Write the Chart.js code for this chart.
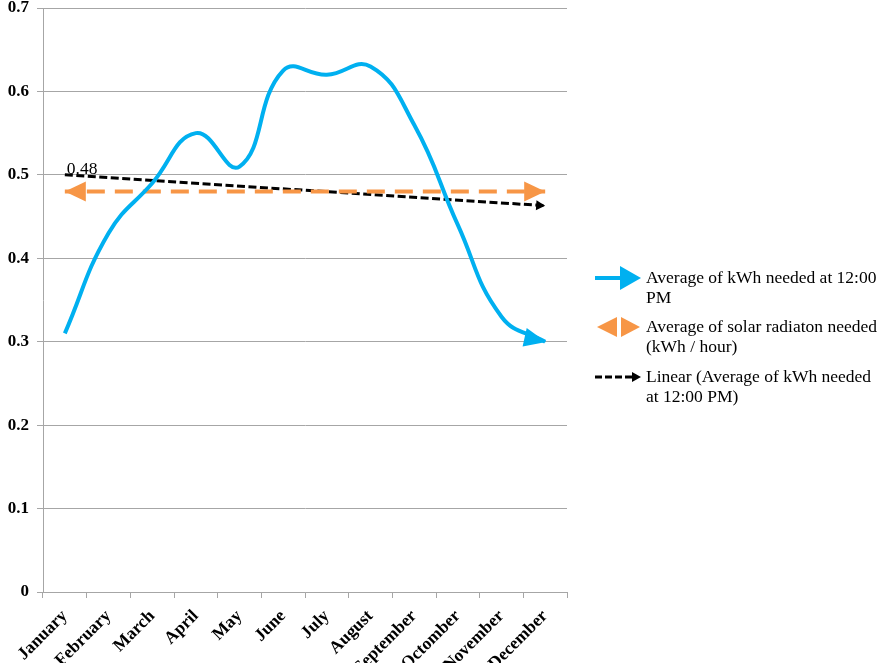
<!DOCTYPE html>
<html>
<head>
<meta charset="utf-8">
<script src="https://cdn.jsdelivr.net/npm/chart.js@4"></script>
<style>
  html, body { margin: 0; padding: 0; background: #fff; }
  #kwhChart { display: block; }
</style>
</head>
<body>
<canvas id="kwhChart" width="879" height="663"></canvas>
<script>
const months = ["January", "February", "March", "April", "May", "June", "July",
  "August", "September", "Octomber", "November", "December"];

const kwhNeeded = [0.31, 0.43, 0.49, 0.55, 0.51, 0.625, 0.62, 0.63, 0.56, 0.44, 0.33, 0.30];

const solarNeeded = [0.48, 0.48, 0.48, 0.48, 0.48, 0.48, 0.48, 0.48, 0.48, 0.48, 0.48, 0.48];

// trend line (only the two ends are drawn)
const trendKwh = [0.50, null, null, null, null, null, null, null, null, null, null, 0.463];

const yTicks = [0, 0.1, 0.2, 0.3, 0.4, 0.5, 0.6, 0.7];

const legendItems = [
  ["Average of kWh needed at 12:00", "PM"],
  ["Average of solar radiaton needed", "(kWh / hour)"],
  ["Linear (Average of kWh needed", "at 12:00 PM)"],
];

const blue = "#00b0f0";
const orange = "#f79646";
const gridGrey = "#a6a6a6";
const serif = "'Liberation Serif', 'Times New Roman', serif";

function drawHead(ctx, tip, from, len, half, color, push) {
  const dx = tip.x - from.x, dy = tip.y - from.y;
  const d = Math.sqrt(dx * dx + dy * dy) || 1;
  const ux = dx / d, uy = dy / d;
  const tx = tip.x + ux * push, ty = tip.y + uy * push;
  const bx = tx - ux * len, by = ty - uy * len;
  ctx.save();
  ctx.fillStyle = color;
  ctx.beginPath();
  ctx.moveTo(tx, ty);
  ctx.lineTo(bx - uy * half, by + ux * half);
  ctx.lineTo(bx + uy * half, by - ux * half);
  ctx.closePath();
  ctx.fill();
  ctx.restore();
}

const arrowPlugin = {
  id: "arrows",
  afterDatasetsDraw(chart) {
    const ctx = chart.ctx;
    chart.data.datasets.forEach((ds, i) => {
      if (!ds.arrow) return;
      const pts = chart.getDatasetMeta(i).data.filter((p) => !p.skip);
      const last = pts[pts.length - 1];
      const first = pts[0];
      let prev = pts[pts.length - 2];
      if (ds.arrow.tilt !== undefined) prev = { x: last.x - 20, y: last.y - 20 * ds.arrow.tilt };
      drawHead(ctx, last, prev, ds.arrow.len, ds.arrow.half, ds.borderColor, ds.arrow.push);
      if (ds.arrow.both) {
        drawHead(ctx, first, pts[1], ds.arrow.len, ds.arrow.half, ds.borderColor, ds.arrow.push);
      }
    });
    // value label on first point of the solar series
    const p = chart.getDatasetMeta(1).data[0];
    ctx.save();
    ctx.font = "17.5px " + serif;
    ctx.fillStyle = "#000";
    ctx.textBaseline = "alphabetic";
    ctx.fillText(solarNeeded[0].toFixed(2), p.x + 2, p.y - 18);
    ctx.restore();
  },
};

const legendPlugin = {
  id: "sideLegend",
  afterDraw(chart) {
    const ctx = chart.ctx;
    const rows = [278, 327, 377];
    ctx.save();
    // blue arrow
    ctx.strokeStyle = blue;
    ctx.lineWidth = 4;
    ctx.beginPath();
    ctx.moveTo(595, rows[0]);
    ctx.lineTo(624, rows[0]);
    ctx.stroke();
    drawHead(ctx, { x: 641, y: rows[0] }, { x: 595, y: rows[0] }, 21, 12, blue, 0);
    // orange double arrow
    drawHead(ctx, { x: 640, y: rows[1] }, { x: 597, y: rows[1] }, 19, 10, orange, 0);
    drawHead(ctx, { x: 597, y: rows[1] }, { x: 640, y: rows[1] }, 20, 10, orange, 0);
    // black dashed
    ctx.strokeStyle = "#000";
    ctx.lineWidth = 3;
    ctx.setLineDash([7, 3]);
    ctx.beginPath();
    ctx.moveTo(595, rows[2]);
    ctx.lineTo(634, rows[2]);
    ctx.stroke();
    ctx.setLineDash([]);
    drawHead(ctx, { x: 641, y: rows[2] }, { x: 595, y: rows[2] }, 9, 5, "#000", 0);
    // texts
    ctx.font = "17.5px " + serif;
    ctx.fillStyle = "#000";
    ctx.textBaseline = "middle";
    legendItems.forEach((lines, i) => {
      lines.forEach((t, j) => ctx.fillText(t, 646, rows[i] + j * 20));
    });
    ctx.restore();
  },
};

const ctx = document.getElementById("kwhChart");
new Chart(ctx, {
  type: "line",
  data: {
    labels: months,
    datasets: [
      {
        label: "Average of kWh needed at 12:00 PM",
        data: kwhNeeded,
        borderColor: blue,
        borderWidth: 4,
        tension: 0.45,
        pointRadius: 0,
        arrow: { len: 22, half: 9.5, push: 1, tilt: 0.22 },
      },
      {
        label: "Average of solar radiaton needed (kWh / hour)",
        data: solarNeeded,
        borderColor: orange,
        borderWidth: 4,
        borderDash: [18, 10],
        borderDashOffset: -22,
        pointRadius: 0,
        arrow: { len: 21, half: 10, push: 0, both: true },
      },
      {
        label: "Linear (Average of kWh needed at 12:00 PM)",
        data: trendKwh,
        borderColor: "#000",
        borderWidth: 3,
        borderDash: [8, 3.5],
        spanGaps: true,
        pointRadius: 0,
        arrow: { len: 9, half: 5, push: 0 },
      },
    ],
  },
  options: {
    responsive: false,
    animation: false,
    devicePixelRatio: 1,
    layout: { padding: { top: 8, right: 312, left: 0, bottom: 0 } },
    plugins: { legend: { display: false }, tooltip: { enabled: false } },
    scales: {
      x: {
        offset: true,
        grid: { offset: true, drawOnChartArea: false, drawTicks: true, tickLength: 6, color: gridGrey },
        border: { color: gridGrey },
        ticks: {
          minRotation: 45,
          maxRotation: 45,
          autoSkip: false,
          padding: 8,
          color: "#000",
          font: { family: serif, size: 17.5, weight: "bold" },
        },
        afterFit: (scale) => { scale.height = 71; },
      },
      y: {
        min: 0,
        max: 0.7,
        afterBuildTicks: (scale) => { scale.ticks = yTicks.map((v) => ({ value: v })); },
        grid: { color: gridGrey, tickLength: 6 },
        border: { color: gridGrey },
        ticks: {
          padding: 8,
          color: "#000",
          font: { family: serif, size: 17, weight: "bold" },
          callback: (v) => (v === 0 ? "0" : v.toFixed(1)),
        },
        afterFit: (scale) => {
          scale.width = 43;
          scale.paddingTop = 0;
          scale.paddingBottom = 0;
        },
      },
    },
  },
  plugins: [arrowPlugin, legendPlugin],
});
</script>
</body>
</html>
